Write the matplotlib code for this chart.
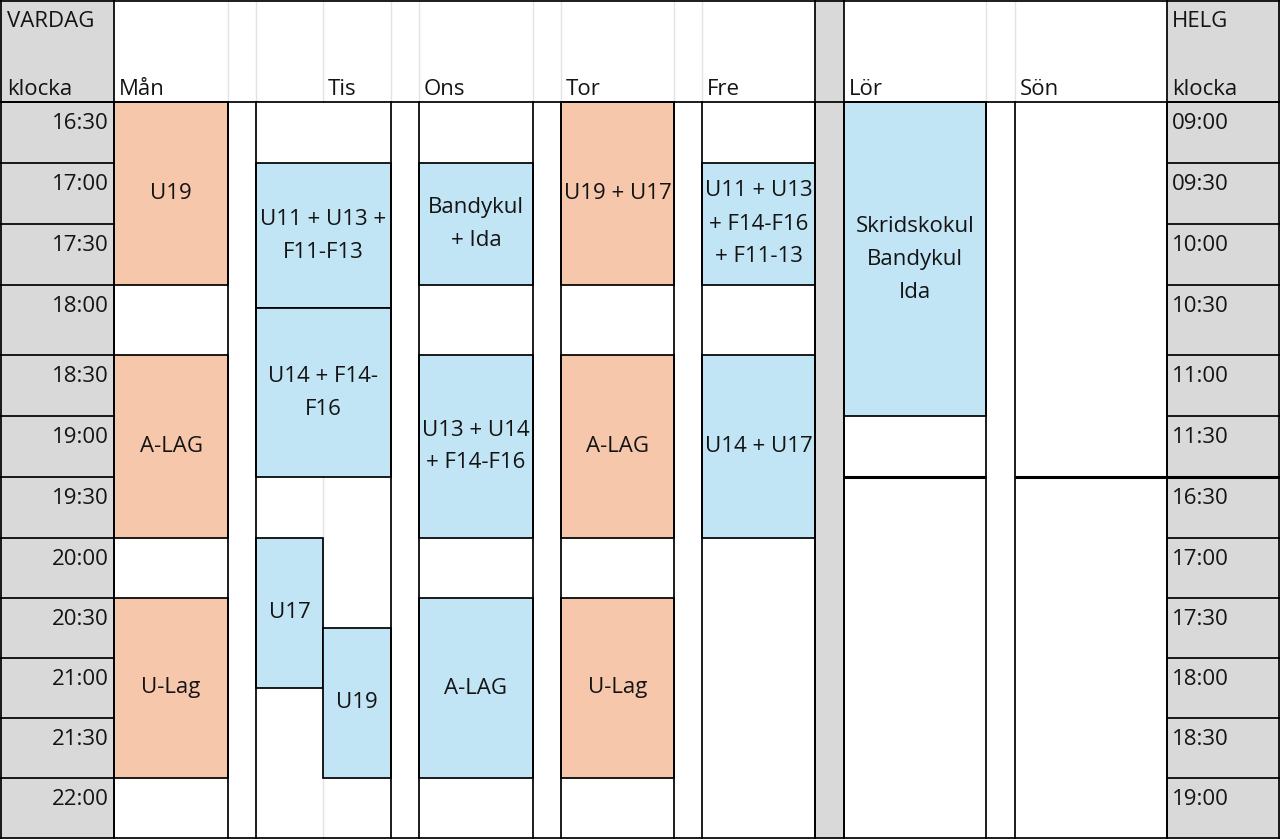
import matplotlib.pyplot as plt
import numpy as np
from matplotlib.patches import Rectangle

plt.rcParams['font.family'] = ['Open Sans', 'DejaVu Sans']

# klockslag i tidskolumnerna (vardag till vänster, helg till höger)
vardag_klocka = ['16:30', '17:00', '17:30', '18:00', '18:30', '19:00',
                 '19:30', '20:00', '20:30', '21:00', '21:30', '22:00']
helg_klocka = ['09:00', '09:30', '10:00', '10:30', '11:00', '11:30',
               '16:30', '17:00', '17:30', '18:00', '18:30', '19:00']

dagar = ['Mån', 'Tis', 'Ons', 'Tor', 'Fre', 'Lör', 'Sön']

# pass per dag: (start, slut, text, färg, del av kolumnen)
man_pass = [('16:30', '18:00', 'U19', 'orange', 'hel'),
            ('18:30', '20:00', 'A-LAG', 'orange', 'hel'),
            ('20:30', '22:00', 'U-Lag', 'orange', 'hel')]
tis_pass = [('17:00', '18:10', 'U11 + U13 +\nF11-F13', 'bla', 'hel'),
            ('18:10', '19:30', 'U14 + F14-\nF16', 'bla', 'hel'),
            ('20:00', '21:15', 'U17', 'bla', 'v'),
            ('20:45', '22:00', 'U19', 'bla', 'h')]
ons_pass = [('17:00', '18:00', 'Bandykul\n+ Ida', 'bla', 'hel'),
            ('18:30', '20:00', 'U13 + U14\n+ F14-F16', 'bla', 'hel'),
            ('20:30', '22:00', 'A-LAG', 'bla', 'hel')]
tor_pass = [('16:30', '18:00', 'U19 + U17', 'orange', 'hel'),
            ('18:30', '20:00', 'A-LAG', 'orange', 'hel'),
            ('20:30', '22:00', 'U-Lag', 'orange', 'hel')]
fre_pass = [('17:00', '18:00', 'U11 + U13\n+ F14-F16\n+ F11-13', 'bla', 'hel'),
            ('18:30', '20:00', 'U14 + U17', 'bla', 'hel')]
lor_pass = [('09:00', '11:30', 'Skridskokul\nBandykul\nIda', 'bla', 'hel')]
son_pass = []

schema = {'Mån': man_pass, 'Tis': tis_pass, 'Ons': ons_pass, 'Tor': tor_pass,
          'Fre': fre_pass, 'Lör': lor_pass, 'Sön': son_pass}
helgdagar = ['Lör', 'Sön']

# färger som i kalkylbladet
farger = {'orange': '#F7C7AC', 'bla': '#C1E5F5'}
GRA = '#D9D9D9'
RUTNAT = '#E3E3E3'
TEXT = '#141414'

# layout (pixlar, som kolumnbredder/radhöjder i kalkylbladet)
HEAD_H = 102
ROW_H = [61, 61, 61, 70, 61, 61, 61, 60, 60, 60, 60, 60]
row_top = HEAD_H + np.concatenate([[0], np.cumsum(ROW_H)])
BOTTOM = row_top[-1]
dag_x = {'Mån': (114, 228), 'Tis': (256, 391), 'Ons': (419, 533),
         'Tor': (561, 674), 'Fre': (702, 815), 'Lör': (844, 986),
         'Sön': (1015, 1167)}
TIS_DELNING = 323
VARDAG_X = (0, 114)
HELG_X = (1167, 1280)
GRA_KOLUMN = (815, 844)
W, H = 1280, 840
FS = 16
LW = 1.25


def minuter(t):
    h, m = t.split(':')
    return int(h) * 60 + int(m)


def to_y(t, klocka):
    mins = [minuter(k) for k in klocka]
    m = minuter(t)
    i = max(j for j, k in enumerate(mins) if k <= m)
    return row_top[i] + (m - mins[i]) / 30 * ROW_H[i]


fig = plt.figure(figsize=(W / 100, H / 100), dpi=100)
ax = fig.add_axes([0, 0, 1, 1])
ax.set_xlim(0, W)
ax.set_ylim(H, 0)
ax.axis('off')

# grå kolumner
for x0, x1 in (VARDAG_X, HELG_X, GRA_KOLUMN):
    ax.add_patch(Rectangle((x0, 0), x1 - x0, BOTTOM, facecolor=GRA,
                           edgecolor='none', zorder=0))

# ljusa rutnätslinjer i rubrikraden
for x in [228, 256, TIS_DELNING, 391, 419, 533, 561, 674, 702, 986, 1015]:
    ax.plot([x, x], [0, HEAD_H], color=RUTNAT, lw=1, zorder=1)
ax.plot([TIS_DELNING, TIS_DELNING], [to_y('19:30', vardag_klocka), BOTTOM],
        color=RUTNAT, lw=1, zorder=1)

# passen
for dag in dagar:
    x0, x1 = dag_x[dag]
    klocka = helg_klocka if dag in helgdagar else vardag_klocka
    for start, slut, text, farg, delen in schema[dag]:
        if delen == 'v':
            a, b = x0, TIS_DELNING
        elif delen == 'h':
            a, b = TIS_DELNING, x1
        else:
            a, b = x0, x1
        y0, y1 = to_y(start, klocka), to_y(slut, klocka)
        ax.add_patch(Rectangle((a, y0), b - a, y1 - y0, facecolor=farger[farg],
                               edgecolor='black', lw=LW, zorder=2))
        ax.text((a + b) / 2, (y0 + y1) / 2, text, ha='center', va='center',
                ma='center', fontsize=FS, color=TEXT, linespacing=1.75,
                zorder=3)

# rubriker
ax.text(VARDAG_X[0] + 7, 27, 'VARDAG', fontsize=FS, color=TEXT, va='baseline')
ax.text(VARDAG_X[0] + 7, 95, 'klocka', fontsize=FS, color=TEXT, va='baseline')
ax.text(HELG_X[0] + 5, 27, 'HELG', fontsize=FS, color=TEXT, va='baseline')
ax.text(HELG_X[0] + 5, 95, 'klocka', fontsize=FS, color=TEXT, va='baseline')
for dag in dagar:
    x0 = TIS_DELNING if dag == 'Tis' else dag_x[dag][0]
    ax.text(x0 + 5, 95, dag, fontsize=FS, color=TEXT, va='baseline')

# klockslag
for i, (v, h) in enumerate(zip(vardag_klocka, helg_klocka)):
    ax.text(VARDAG_X[1] - 5, row_top[i] + 27, v, fontsize=FS, color=TEXT,
            ha='right', va='baseline')
    ax.text(HELG_X[0] + 5, row_top[i] + 27, h, fontsize=FS, color=TEXT,
            ha='left', va='baseline')
    for x0, x1 in (VARDAG_X, HELG_X):
        ax.plot([x0, x1], [row_top[i], row_top[i]], color='black', lw=LW,
                zorder=4)

# svarta kolumnlinjer
kant_x = sorted({x for par in dag_x.values() for x in par} | {VARDAG_X[1], HELG_X[0]})
for x in kant_x:
    ax.plot([x, x], [HEAD_H, BOTTOM], color='black', lw=LW, zorder=4)
for x in (0.8, VARDAG_X[1], GRA_KOLUMN[0], GRA_KOLUMN[1], HELG_X[0], W - 1):
    ax.plot([x, x], [0, BOTTOM], color='black', lw=LW, zorder=4)
for y in (0.8, HEAD_H, BOTTOM):
    ax.plot([0, W], [y, y], color='black', lw=LW, zorder=4)

# tjock linje mellan förmiddag och eftermiddag på helgen
y_paus = row_top[helg_klocka.index('16:30')]
for x0, x1 in (dag_x['Lör'], dag_x['Sön'], HELG_X):
    ax.plot([x0, x1], [y_paus, y_paus], color='black', lw=2.2, zorder=5,
            solid_capstyle='butt')

fig.savefig('out.png', dpi=100)
